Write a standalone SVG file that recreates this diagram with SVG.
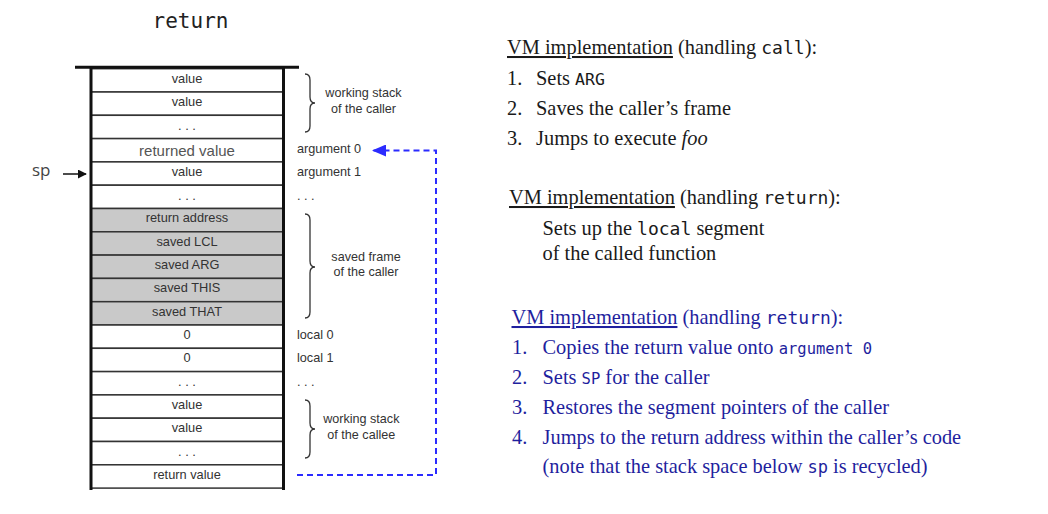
<svg xmlns="http://www.w3.org/2000/svg" width="1048" height="514" viewBox="0 0 1048 514">
<style>
.cell{fill:#ffffff;stroke:#333333;stroke-width:1.5}
.frame{fill:#c9c9c9;stroke:#333333;stroke-width:1.5}
.ct{font-family:"Liberation Sans",Arial,sans-serif;font-size:12.8px;fill:#333333;text-anchor:middle}
.big{font-size:15px;fill:#555555}
.side{font-family:"Liberation Sans",Arial,sans-serif;font-size:12.7px;fill:#333333}
.bt{font-family:"Liberation Sans",Arial,sans-serif;font-size:12.6px;fill:#333333;text-anchor:middle}
.brace{fill:none;stroke:#333333;stroke-width:1.3}
.wall{stroke:#111111;stroke-width:3;fill:none}
.mono{font-family:"DejaVu Sans Mono","Liberation Mono",monospace}
.serif{font-family:"Liberation Serif","Times New Roman",serif;font-size:20.4px}
.black{fill:#1a1a1a}
.blue{fill:#1f1f9e}
.dash{fill:none;stroke:#2b2bff;stroke-width:2;stroke-dasharray:6 4}
</style>
<defs>
<marker id="bluehead" viewBox="0 0 14 12" refX="13" refY="6" markerWidth="14" markerHeight="12" markerUnits="userSpaceOnUse" orient="auto">
<path d="M0,0 L14,6 L0,12 Z" fill="#2b2bff"/>
</marker>
<marker id="blackhead" viewBox="0 0 10 10" refX="9" refY="5" markerWidth="9" markerHeight="9" markerUnits="userSpaceOnUse" orient="auto">
<path d="M0,0 L10,5 L0,10 Z" fill="#111111"/>
</marker>
</defs>
<rect width="1048" height="514" fill="#ffffff"/>

<text id="title" x="190.5" y="28" class="mono" font-size="21" fill="#222222" text-anchor="middle">return</text>

<g id="sp-pointer">
<text x="32" y="176" font-family="'Open Sans','Noto Sans',sans-serif" font-size="17" fill="#444444">sp</text>
</g>

<g id="stack">
<g id="row0"><rect class="cell" x="91" y="68.7" width="192" height="23.3"/><text class="ct" x="187" y="83.3">value</text></g>
<g id="row1"><rect class="cell" x="91" y="92" width="192" height="23.3"/><text class="ct" x="187" y="106.3">value</text></g>
<g id="row2"><rect class="cell" x="91" y="115.3" width="192" height="23.3"/><text class="ct" x="187" y="129.6">. . .</text></g>
<g id="row3"><rect class="cell" x="91" y="138.6" width="192" height="23.3"/><text class="ct big" x="187" y="156">returned value</text></g>
<g id="row4"><rect class="cell" x="91" y="161.9" width="192" height="23.3"/><text class="ct" x="187" y="176">value</text></g>
<g id="row5"><rect class="cell" x="91" y="185.2" width="192" height="23.3"/><text class="ct" x="187" y="199.5">. . .</text></g>
<g id="row6"><rect class="frame" x="91" y="208.5" width="192" height="23.3"/><text class="ct" x="187" y="222">return address</text></g>
<g id="row7"><rect class="frame" x="91" y="231.8" width="192" height="23.3"/><text class="ct" x="187" y="245.6">saved LCL</text></g>
<g id="row8"><rect class="frame" x="91" y="255.1" width="192" height="23.3"/><text class="ct" x="187" y="268.9">saved ARG</text></g>
<g id="row9"><rect class="frame" x="91" y="278.4" width="192" height="23.3"/><text class="ct" x="187" y="292.2">saved THIS</text></g>
<g id="row10"><rect class="frame" x="91" y="301.7" width="192" height="23.3"/><text class="ct" x="187" y="315.5">saved THAT</text></g>
<g id="row11"><rect class="cell" x="91" y="325" width="192" height="23.3"/><text class="ct" x="187" y="339">0</text></g>
<g id="row12"><rect class="cell" x="91" y="348.3" width="192" height="23.3"/><text class="ct" x="187" y="362.3">0</text></g>
<g id="row13"><rect class="cell" x="91" y="371.6" width="192" height="23.3"/><text class="ct" x="187" y="385.6">. . .</text></g>
<g id="row14"><rect class="cell" x="91" y="394.9" width="192" height="23.3"/><text class="ct" x="187" y="408.9">value</text></g>
<g id="row15"><rect class="cell" x="91" y="418.2" width="192" height="23.3"/><text class="ct" x="187" y="432.2">value</text></g>
<g id="row16"><rect class="cell" x="91" y="441.5" width="192" height="23.3"/><text class="ct" x="187" y="455.5">. . .</text></g>
<g id="row17"><rect class="cell" x="91" y="464.8" width="192" height="23.3"/><text class="ct" x="187" y="478.8">return value</text></g>
<g id="walls">
<line class="wall" x1="91" y1="67" x2="91" y2="490"/>
<line class="wall" x1="283.5" y1="67" x2="283.5" y2="490"/>
<line class="wall" x1="75" y1="67.2" x2="299" y2="67.2" stroke-width="3.5"/>
</g>
</g>

<g id="side-labels">
<text class="side" x="297" y="152.7">argument 0</text>
<text class="side" x="297" y="176">argument 1</text>
<text class="side" x="297" y="199.5">. . .</text>
<text class="side" x="297" y="339">local 0</text>
<text class="side" x="297" y="362.3">local 1</text>
<text class="side" x="297" y="385.6">. . .</text>
</g>

<g id="brace-caller-stack">
<path class="brace" d="M305,74 Q310,74 310,80 L310,97 Q310,103 315,103 Q310,103 310,109 L310,126 Q310,132 305,132"/>
<text class="bt" x="363.5" y="97">working stack</text>
<text class="bt" x="363.5" y="113">of the caller</text>
</g>
<g id="brace-saved-frame">
<path class="brace" d="M305,214 Q310,214 310,220 L310,261 Q310,267 315,267 Q310,267 310,273 L310,312 Q310,318 305,318"/>
<text class="bt" x="366" y="260.7">saved frame</text>
<text class="bt" x="366" y="276">of the caller</text>
</g>
<g id="brace-callee-stack">
<path class="brace" d="M305,400 Q310,400 310,406 L310,423 Q310,429 315,429 Q310,429 310,435 L310,452 Q310,458 305,458"/>
<text class="bt" x="361.3" y="423.3">working stack</text>
<text class="bt" x="361.3" y="439">of the callee</text>
</g>

<g id="connectors">
<line x1="63" y1="174" x2="86" y2="174" stroke="#111111" stroke-width="1.5" marker-end="url(#blackhead)"/>
<path class="dash" d="M297,475 L436,475 L436,150.5 L373,150.5" marker-end="url(#bluehead)"/>
</g>

<g id="call-block" class="serif black">
<text x="507" y="54"><tspan text-decoration="underline">VM implementation</tspan> (handling <tspan class="mono" font-size="18">call</tspan>):</text>
<text x="507" y="85">1.</text><text x="536" y="85">Sets <tspan class="mono" font-size="16.5">ARG</tspan></text>
<text x="507" y="115">2.</text><text x="536" y="115">Saves the caller’s frame</text>
<text x="507" y="145">3.</text><text x="536" y="145">Jumps to execute <tspan font-style="italic">foo</tspan></text>
</g>

<g id="return-local-block" class="serif black">
<text x="509" y="204"><tspan text-decoration="underline">VM implementation</tspan> (handling <tspan class="mono" font-size="18">return</tspan>):</text>
<text x="542.5" y="235">Sets up the <tspan class="mono" font-size="18">local</tspan> segment</text>
<text x="542.5" y="260">of the called function</text>
</g>

<g id="return-block" class="serif blue">
<text x="511.5" y="324"><tspan text-decoration="underline">VM implementation</tspan> (handling <tspan class="mono" font-size="18">return</tspan>):</text>
<text x="512" y="354">1.</text><text x="542.5" y="354">Copies the return value onto <tspan class="mono" font-size="15.5">argument 0</tspan></text>
<text x="512" y="384">2.</text><text x="542.5" y="384">Sets <tspan class="mono" font-size="15.5">SP</tspan> for the caller</text>
<text x="512" y="414">3.</text><text x="542.5" y="414">Restores the segment pointers of the caller</text>
<text x="512" y="444">4.</text><text x="542.5" y="444">Jumps to the return address within the caller’s code</text>
<text x="542.5" y="473">(note that the stack space below <tspan class="mono" font-size="17">sp</tspan> is recycled)</text>
</g>
</svg>
